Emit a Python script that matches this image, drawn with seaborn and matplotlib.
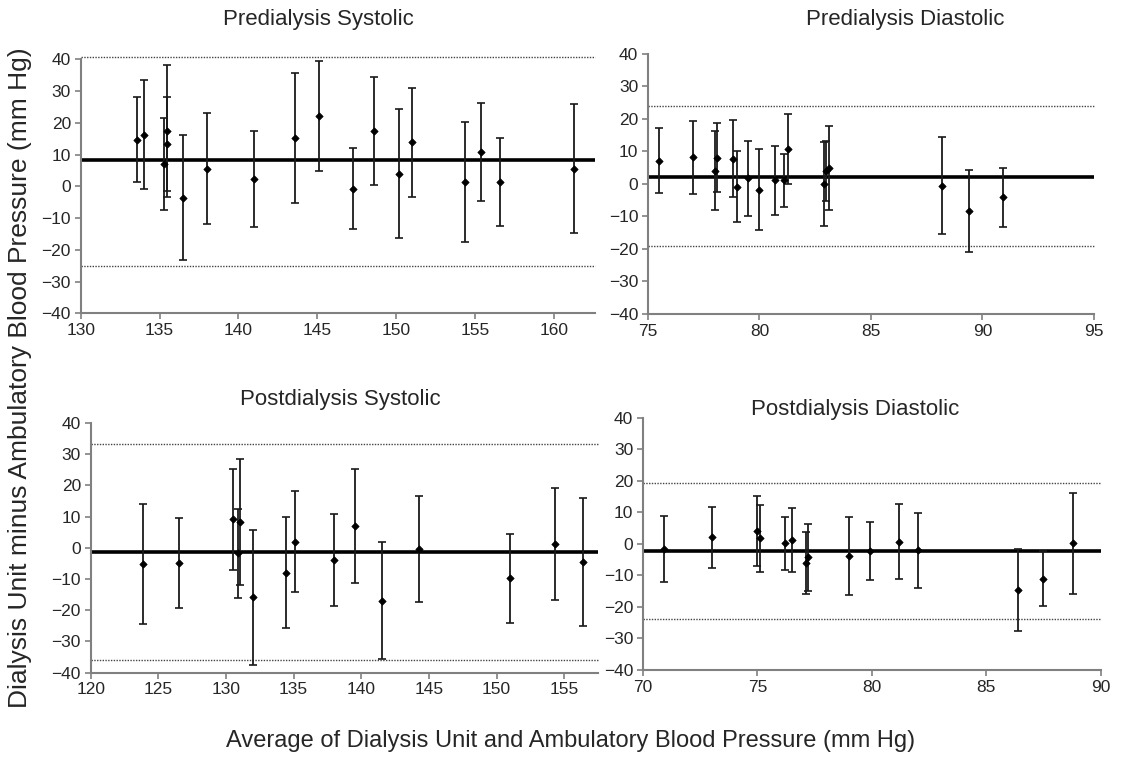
import numpy as np
import matplotlib
matplotlib.use('Agg')
import matplotlib.pyplot as plt
import seaborn as sns

sns.set_style('white')
plt.rcParams['font.family'] = ['Liberation Sans', 'DejaVu Sans']

# Predialysis systolic: average BP, difference, half-width of error bar
pre_sys_x = [133.6, 134.0, 135.3, 135.5, 135.5, 136.5, 138.0, 141.0, 143.6, 145.1,
             147.3, 148.6, 150.2, 151.0, 154.4, 155.4, 156.6, 161.3]
pre_sys_y = [14.7, 16.3, 7.0, 17.4, 13.3, -3.6, 5.6, 2.3, 15.3, 22.1,
             -0.7, 17.4, 4.0, 13.8, 1.3, 10.8, 1.3, 5.6]
pre_sys_err = [13.3, 17.2, 14.5, 20.8, 14.9, 19.7, 17.6, 15.2, 20.4, 17.4,
               12.8, 16.9, 20.3, 17.1, 18.8, 15.5, 13.9, 20.4]
pre_sys_lines = [8.4, 40.6, -25.0]   # mean, upper limit, lower limit

# Predialysis diastolic
pre_dia_x = [75.5, 77.0, 78.0, 78.1, 78.8, 79.0, 79.5, 80.0, 80.7, 81.1,
             81.3, 82.9, 83.0, 83.1, 88.2, 89.4, 90.9]
pre_dia_y = [7.2, 8.2, 4.1, 8.1, 7.8, -0.8, 1.7, -1.8, 1.1, 1.1,
             10.8, 0.0, 4.1, 4.9, -0.5, -8.4, -4.1]
pre_dia_err = [9.9, 11.3, 12.2, 10.6, 11.9, 10.8, 11.4, 12.5, 10.5, 8.2,
               10.8, 12.8, 9.2, 12.8, 15.0, 12.6, 9.1]
pre_dia_lines = [2.3, 23.9, -19.1]

# Postdialysis systolic
post_sys_x = [123.9, 126.5, 130.5, 130.9, 131.0, 132.0, 134.4, 135.1, 138.0, 139.5,
              141.5, 144.3, 151.0, 154.3, 156.4]
post_sys_y = [-5.1, -4.8, 9.2, -1.8, 8.2, -15.8, -7.9, 2.0, -3.8, 7.0,
              -16.9, -0.5, -9.8, 1.3, -4.5]
post_sys_err = [19.2, 14.5, 16.2, 14.3, 20.2, 21.6, 17.8, 16.2, 14.8, 18.4,
                18.8, 17.0, 14.3, 18.0, 20.6]
post_sys_lines = [-1.3, 33.2, -35.9]

# Postdialysis diastolic
post_dia_x = [70.9, 73.0, 75.0, 75.1, 76.2, 76.5, 77.1, 77.2, 79.0, 79.9,
              81.2, 82.0, 86.4, 87.5, 88.8]
post_dia_y = [-1.6, 2.1, 4.1, 1.7, 0.1, 1.2, -6.2, -4.3, -3.9, -2.3,
              0.7, -2.1, -14.7, -11.1, 0.2]
post_dia_err = [10.4, 9.7, 11.0, 10.7, 8.3, 10.2, 9.8, 10.6, 12.4, 9.2,
                12.0, 12.0, 13.1, 8.7, 16.0]
post_dia_lines = [-2.3, 19.4, -24.0]

titles = ['Predialysis Systolic', 'Predialysis Diastolic',
          'Postdialysis Systolic', 'Postdialysis Diastolic']

fig = plt.figure(figsize=(11.25, 7.59), dpi=100)

panels = [
    (pre_sys_x, pre_sys_y, pre_sys_err, pre_sys_lines, (130, 162.6), np.arange(130, 161, 5),
     [0.0717, 0.587, 0.457, 0.335], (318, 20)),
    (pre_dia_x, pre_dia_y, pre_dia_err, pre_dia_lines, (75, 95), np.arange(75, 96, 5),
     [0.576, 0.5863, 0.3964, 0.3426], (905, 20)),
    (post_sys_x, post_sys_y, post_sys_err, post_sys_lines, (120, 157.5), np.arange(120, 156, 5),
     [0.0806, 0.1137, 0.451, 0.329], (340, 400)),
    (post_dia_x, post_dia_y, post_dia_err, post_dia_lines, (70, 90), np.arange(70, 91, 5),
     [0.5716, 0.1173, 0.4068, 0.3325], (855, 410)),
]

for (x, y, err, lines, xlim, xticks, pos, tpos), title in zip(panels, titles):
    ax = fig.add_axes(pos)
    mean, upper, lower = lines
    ax.axhline(mean, color='black', lw=2.6, zorder=2)
    ax.axhline(upper, color='#444444', lw=1.0, ls=(0, (1, 1)), zorder=1, clip_on=False)
    ax.axhline(lower, color='#444444', lw=1.0, ls=(0, (1, 1)), zorder=1, clip_on=False)
    ax.errorbar(x, y, yerr=err, fmt='none', ecolor='#1a1a1a', elinewidth=1.3,
                capsize=3, capthick=1.2, zorder=3)
    sns.scatterplot(x=x, y=y, marker='D', s=14, color='black', edgecolor='black',
                    linewidth=0.5, ax=ax, zorder=4)
    ax.set_xlim(*xlim)
    ax.set_ylim(-40, 40)
    ax.set_xticks(xticks)
    ax.set_yticks(np.arange(-40, 41, 10))
    ax.tick_params(axis='both', direction='out', length=4, width=1.2,
                   color='#808080', labelsize=12.5, pad=3, bottom=True, left=True)
    for side in ['top', 'right']:
        ax.spines[side].set_visible(False)
    for side in ['left', 'bottom']:
        ax.spines[side].set_color('#808080')
        ax.spines[side].set_linewidth(1.5)
    fig.text(tpos[0] / 1125, 1 - tpos[1] / 759, title, ha='center', va='center',
             fontsize=16)

fig.text(571 / 1125, 1 - 741 / 759,
         'Average of Dialysis Unit and Ambulatory Blood Pressure (mm Hg)',
         ha='center', va='center', fontsize=17)
fig.text(20 / 1125, 1 - 378 / 759,
         'Dialysis Unit minus Ambulatory Blood Pressure (mm Hg)',
         ha='center', va='center', rotation=90, fontsize=19)

fig.savefig('out.png', dpi=100)
